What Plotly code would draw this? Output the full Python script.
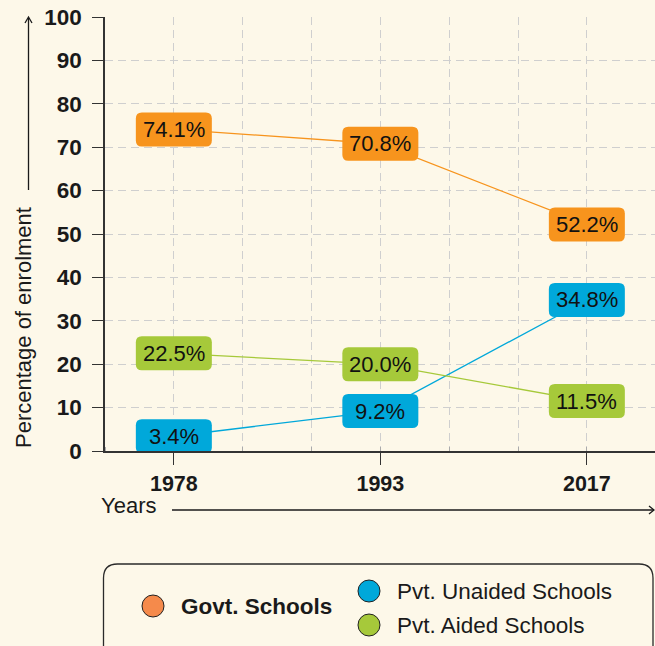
import plotly.graph_objects as go

# ---------------- data ----------------
years = ["1978", "1993", "2017"]
series_names = ["Govt. Schools", "Pvt. Unaided Schools", "Pvt. Aided Schools"]
govt = [74.1, 70.8, 52.2]
unaided = [3.4, 9.2, 34.8]
aided = [22.5, 20.0, 11.5]
y_ticks = list(range(0, 101, 10))

# ---------------- style ----------------
W, H = 655, 646
ML, MR, MT, MB = 105, 0, 17, 195
PW, PH = W - ML - MR, H - MT - MB
BG = "#FDF8E9"
INK = "#1a1a1a"
GRID = "#CFCFCF"
FONT = "Liberation Sans, Arial, Helvetica, sans-serif"
box_colors = ["#F7941D", "#00A8DA", "#A6C93A"]
dot_colors = ["#F58A4B", "#00A8DA", "#A6C93A"]

slots = [1 + 3 * i for i in range(len(years))]  # categorical slots on a 0..8 axis
series = [govt, unaided, aided]


def px_x(p):
    return (p - ML) / PW


def px_y(p):
    return (MT + PH - p) / PH


def rrect(x0, y0, x1, y1, r):
    return (f"M {x0+r},{y0} L {x1-r},{y0} Q {x1},{y0} {x1},{y0+r} "
            f"L {x1},{y1-r} Q {x1},{y1} {x1-r},{y1} L {x0+r},{y1} "
            f"Q {x0},{y1} {x0},{y1-r} L {x0},{y0+r} Q {x0},{y0} {x0+r},{y0} Z")


fig = go.Figure()

for name, vals, col in zip(series_names, series, box_colors):
    fig.add_trace(go.Scatter(x=slots, y=vals, mode="lines", name=name,
                             line=dict(color=col, width=1.3),
                             hoverinfo="skip", showlegend=False))

shapes = []
annotations = []

# value label boxes
BW, BH = 38, 17
for vals, col in zip(series, box_colors):
    for s, v in zip(slots, vals):
        shapes.append(dict(type="path", xref="x", yref="y",
                           xsizemode="pixel", ysizemode="pixel",
                           xanchor=s, yanchor=v,
                           path=rrect(-BW, -BH, BW, BH, 6),
                           fillcolor=col, line=dict(width=0), layer="above"))
        annotations.append(dict(x=s, y=v, xref="x", yref="y", text=f"{v:.1f}%",
                                showarrow=False, xanchor="center", yanchor="middle",
                                font=dict(family=FONT, size=22, color="#111111")))

# y-axis title + arrow
annotations.append(dict(x=px_x(23), y=px_y(328), xref="paper", yref="paper",
                        xanchor="center", yanchor="middle",
                        text="Percentage of enrolment", textangle=-90, showarrow=False,
                        font=dict(family=FONT, size=22, color=INK)))
shapes.append(dict(type="line", xref="paper", yref="paper",
                   x0=px_x(28.5), x1=px_x(28.5), y0=px_y(190), y1=px_y(18),
                   line=dict(color=INK, width=1.3)))
shapes.append(dict(type="path", xref="paper", yref="paper",
                   path=f"M {px_x(25)},{px_y(23)} L {px_x(28.5)},{px_y(17)} L {px_x(32)},{px_y(23)}",
                   line=dict(color=INK, width=1.3)))

# x-axis title + arrow
annotations.append(dict(x=px_x(99), y=px_y(505), xref="paper", yref="paper",
                        xanchor="left", yanchor="middle", text="Years", showarrow=False,
                        font=dict(family=FONT, size=22, color=INK)))
shapes.append(dict(type="line", xref="paper", yref="paper",
                   x0=px_x(172), x1=px_x(654), y0=px_y(510), y1=px_y(510),
                   line=dict(color=INK, width=1.3)))
shapes.append(dict(type="path", xref="paper", yref="paper",
                   path=f"M {px_x(649)},{px_y(506)} L {px_x(654)},{px_y(510)} L {px_x(649)},{px_y(514)}",
                   line=dict(color=INK, width=1.3)))

# legend frame (rounded, pixel-sized, anchored at its top-left corner)
shapes.append(dict(type="path", xref="paper", yref="paper",
                   xsizemode="pixel", ysizemode="pixel",
                   xanchor=px_x(103.5), yanchor=px_y(564),
                   path=rrect(0, -140, 549.5, 0, 14),
                   fillcolor="rgba(0,0,0,0)", line=dict(color="#2a2a2a", width=1.3)))

legend_pos = [(153, 606), (369, 591), (369, 625)]
for name, col, (cx, cy), bold in zip(series_names, dot_colors, legend_pos, [True, False, False]):
    shapes.append(dict(type="circle", xref="paper", yref="paper",
                       xsizemode="pixel", ysizemode="pixel",
                       xanchor=px_x(cx), yanchor=px_y(cy),
                       x0=-11, x1=11, y0=-11, y1=11,
                       fillcolor=col, line=dict(color="#222222", width=1)))
    annotations.append(dict(x=px_x(cx + 26), y=px_y(cy), xref="paper", yref="paper",
                            xanchor="left", yanchor="middle", showarrow=False,
                            text=f"<b>{name}</b>" if bold else name,
                            font=dict(family=FONT, size=22.5, color=INK)))

fig.update_layout(
    width=W, height=H,
    margin=dict(l=ML, r=MR, t=MT, b=MB, pad=0),
    paper_bgcolor=BG, plot_bgcolor=BG,
    showlegend=False,
    shapes=shapes, annotations=annotations,
    xaxis=dict(range=[0, 7.99], tickmode="array", tickvals=slots, ticktext=years,
               ticks="outside", ticklen=12, tickcolor="#333333", tickwidth=1.3,
               showline=True, linecolor="#333333", linewidth=1.5,
               showgrid=True, gridcolor=GRID, griddash="8px,5px", gridwidth=1,
               zeroline=False, fixedrange=True,
               tickfont=dict(family=FONT, size=21.5, color=INK, weight="bold"),
               minor=dict(tick0=0, dtick=1, showgrid=True, gridcolor=GRID,
                          griddash="8px,5px", ticks="inside", ticklen=4,
                          tickcolor="#aaaaaa")),
    yaxis=dict(range=[0, 100], tickmode="array", tickvals=y_ticks,
               ticks="outside", ticklen=11, tickcolor="#333333", tickwidth=1.3,
               showline=True, linecolor="#333333", linewidth=1.5,
               showgrid=True, gridcolor=GRID, griddash="8px,5px", gridwidth=1,
               zeroline=False, fixedrange=True, ticklabelstandoff=6,
               tickfont=dict(family=FONT, size=22.5, color=INK, weight="bold")),
)

fig.write_html("out.html", config={"displayModeBar": False},
               post_script="document.body.style.margin='0';document.body.style.background='%s';" % BG)
